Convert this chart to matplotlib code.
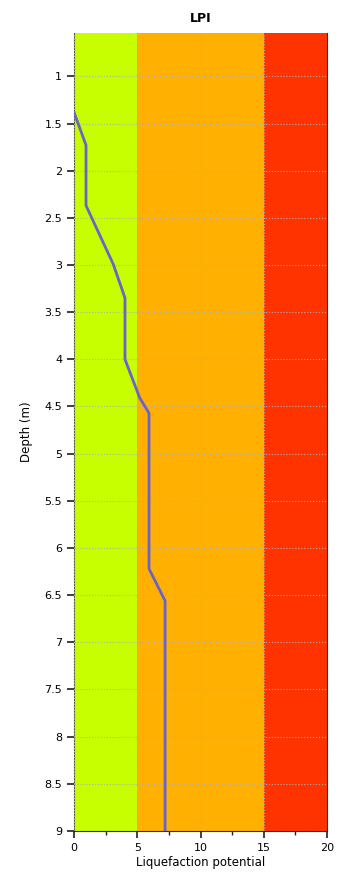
import numpy as np
import matplotlib.pyplot as plt
from matplotlib.ticker import MultipleLocator

# LPI profile
lpi = [0.0, 0.95, 0.95, 3.1, 4.03, 4.03, 4.8, 5.2, 5.93, 5.93, 7.2, 7.2]
depth = [1.38, 1.73, 2.37, 2.99, 3.35, 4.0, 4.27, 4.41, 4.57, 6.22, 6.56, 9.0]

# risk zones (LPI limits) and their colours
zone_edges = [0, 5, 15, 20]
zone_colors = ['#c8ff00', '#ffb000', '#ff3300']

y_ticks = np.arange(1, 9.01, 0.5)
y_labels = ['1', '1.5', '2', '2.5', '3', '3.5', '4', '4.5', '5', '5.5',
            '6', '6.5', '7', '7.5', '8', '8.5', '9']

fig = plt.figure(figsize=(3.42, 8.84), dpi=100)
ax = fig.add_axes([0.2164, 0.06, 0.7398, 0.9027])

for lo, hi, c in zip(zone_edges[:-1], zone_edges[1:], zone_colors):
    ax.axvspan(lo, hi, color=c, lw=0, zorder=0)

ax.plot(lpi, depth, color='#6a63c8', lw=2, zorder=3)

ax.set_xlim(0, 20)
ax.set_ylim(9, 0.54)
ax.set_yticks(y_ticks)
ax.set_yticklabels(y_labels)
ax.xaxis.set_major_locator(MultipleLocator(5))
ax.xaxis.set_minor_locator(MultipleLocator(2.5))

ax.grid(True, which='major', color='#b0b0b0', ls=':', lw=0.8, zorder=1)
ax.set_axisbelow(False)

ax.tick_params(axis='both', which='major', labelsize=8, length=5, width=1.2, color='#202020')
ax.tick_params(axis='x', which='minor', length=3, width=1, color='#202020')

ax.spines['top'].set_visible(False)
ax.spines['left'].set_color('#5a5a20')
ax.spines['right'].set_color('#303030')
ax.spines['bottom'].set_color('#303030')

ax.set_title('LPI', fontsize=9, fontweight='bold', pad=8)
ax.set_xlabel('Liquefaction potential', fontsize=8.5, labelpad=2)
ax.set_ylabel('Depth (m)', fontsize=8.5, labelpad=8)

fig.savefig('out.png', dpi=100)
